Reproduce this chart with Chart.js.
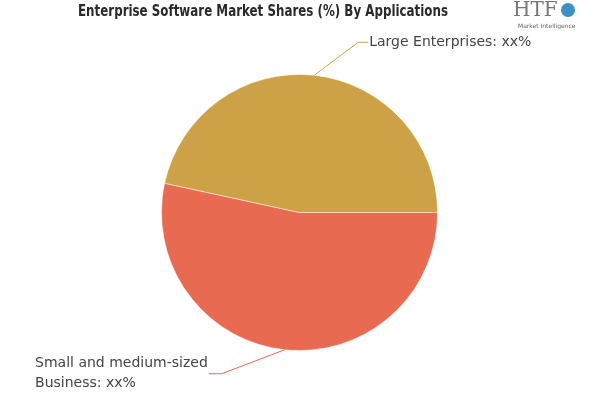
<!DOCTYPE html>
<html>
<head>
<meta charset="utf-8">
<script src="https://cdn.jsdelivr.net/npm/chart.js@4"></script>
<style>
  html, body { margin: 0; padding: 0; background: #fff; }
  #wrap { position: relative; width: 600px; height: 400px; }
</style>
</head>
<body>
<div id="wrap"><canvas id="pie"></canvas></div>
<script>
const labels = ['Small and medium-sized Business', 'Large Enterprises'];
const shares = [53.4, 46.6];
const sliceText = [['Small and medium-sized', 'Business: xx%'], ['Large Enterprises: xx%']];
const colors = ['#E86A50', '#CDA246'];

// leader line offsets from slice edge: [elbow dx, dy, tail length]
const leaders = [[-63, 24, -13], [44, -33, 10]];

const labelPlugin = {
  id: 'labels',
  afterDraw(chart) {
    const ctx = chart.ctx;
    ctx.save();
    // title
    ctx.fillStyle = '#2a2a2a';
    ctx.font = 'bold 15px "DejaVu Sans Condensed", "DejaVu Sans"';
    ctx.textAlign = 'left';
    ctx.textBaseline = 'middle';
    ctx.fillText('Enterprise Software Market Shares (%) By Applications', 78, 12, 370);

    // logo
    ctx.fillStyle = '#777';
    ctx.font = '20px "DejaVu Serif"';
    ctx.fillText('HTF', 513, 11);
    ctx.fillStyle = '#3d8fc6';
    ctx.beginPath();
    ctx.arc(568, 10, 7, 0, Math.PI * 2);
    ctx.fill();
    ctx.fillStyle = '#666';
    ctx.font = '6px "DejaVu Sans"';
    ctx.fillText('Market Intelligence', 518, 26);

    // slice labels
    const meta = chart.getDatasetMeta(0);
    meta.data.forEach((arc, i) => {
      const mid = (arc.startAngle + arc.endAngle) / 2;
      const x0 = arc.x + Math.cos(mid) * arc.outerRadius;
      const y0 = arc.y + Math.sin(mid) * arc.outerRadius;
      const [dx, dy, tail] = leaders[i];
      const x1 = x0 + dx, y1 = y0 + dy, x2 = x1 + tail;
      ctx.strokeStyle = colors[i];
      ctx.lineWidth = 1;
      ctx.beginPath();
      ctx.moveTo(x0, y0);
      ctx.lineTo(x1, y1);
      ctx.lineTo(x2, y1);
      ctx.stroke();

      ctx.fillStyle = '#444';
      ctx.font = '14px "DejaVu Sans"';
      ctx.textBaseline = 'middle';
      ctx.textAlign = 'left';
      const lines = sliceText[i];
      if (tail < 0) {
        const left = x2 - 1 - ctx.measureText(lines[0]).width;
        lines.forEach((t, k) => ctx.fillText(t, left, y1 - 10 + k * 20));
      } else {
        lines.forEach((t, k) => ctx.fillText(t, x2 + 1, y1 + k * 20));
      }
    });
    ctx.restore();
  }
};

new Chart(document.getElementById('pie'), {
  type: 'pie',
  data: {
    labels,
    datasets: [{ data: shares, backgroundColor: colors, borderColor: 'rgba(255,255,255,0.45)', borderWidth: 1 }],
  },
  options: {
    responsive: true,
    maintainAspectRatio: false,
    animation: false,
    rotation: 90,
    layout: { padding: { top: 74, bottom: 49, left: 161, right: 162 } },
    plugins: { legend: { display: false }, tooltip: { enabled: false } },
  },
  plugins: [labelPlugin],
});
</script>
</body>
</html>
